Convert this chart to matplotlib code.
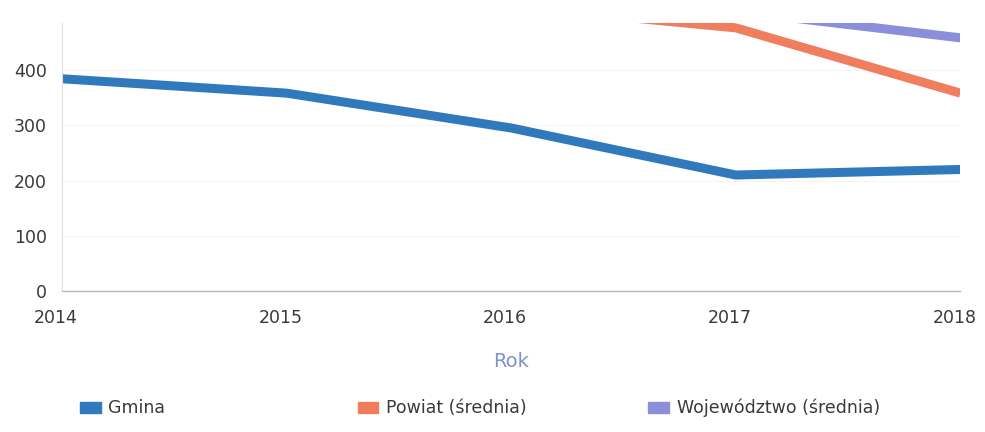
import matplotlib.pyplot as plt
from matplotlib.patches import Patch
from matplotlib.transforms import ScaledTranslation

plt.rcParams['font.family'] = ['DejaVu Sans']

years = [2014, 2015, 2016, 2017, 2018]
gmina = [384, 358, 295, 210, 220]
powiat = [545, 535, 515, 476, 358]
wojewodztwo = [580, 565, 540, 506, 458]

labels = ['Gmina', 'Powiat (średnia)', 'Województwo (średnia)']
colors = ['#3179bd', '#ef7d5e', '#8b8fd9']

fig = plt.figure(figsize=(9.85, 4.32), dpi=100)
ax = fig.add_axes([0.063, 0.326, 0.912, 0.621])

for vals, c in zip([gmina, powiat, wojewodztwo], colors):
    ax.plot(years, vals, color=c, lw=6.5, solid_capstyle='butt',
            solid_joinstyle='round')

ax.set_xlim(2014, 2018)
ax.set_ylim(0, 485)
ax.set_yticks([0, 100, 200, 300, 400])
ax.set_xticks(years)
ax.grid(axis='y', color='#f4f4f4', lw=0.8)
ax.set_axisbelow(True)

for s in ['top', 'right']:
    ax.spines[s].set_visible(False)
ax.spines['left'].set_color('#e0e0e0')
ax.spines['bottom'].set_color('#b8b8c8')
ax.spines['left'].set_linewidth(0.8)
ax.spines['bottom'].set_linewidth(1.0)

ax.tick_params(length=0, labelsize=12.5, colors='#3a3a3a')
ax.tick_params(axis='x', pad=13)
ax.tick_params(axis='y', pad=11)

# tick labels sit a little left of the tick in the original
shift = ScaledTranslation(-6 / 100, 0, fig.dpi_scale_trans)
for lbl in ax.get_xticklabels():
    lbl.set_transform(lbl.get_transform() + shift)

ax.set_xlabel('Rok', fontsize=14, color='#7d93c8', labelpad=18)

# legend entries placed separately, as in the original layout
xpos = [0.081, 0.363, 0.658]
for lab, c, x in zip(labels, colors, xpos):
    h = Patch(color=c)
    fig.legend(handles=[h], labels=[lab], loc='center left',
               bbox_to_anchor=(x, 0.055), frameon=False, fontsize=12.5,
               handlelength=1.2, handleheight=0.6, handletextpad=0.45,
               borderaxespad=0, borderpad=0, labelcolor='#3a3a3a')

fig.savefig('out.png', dpi=100)
